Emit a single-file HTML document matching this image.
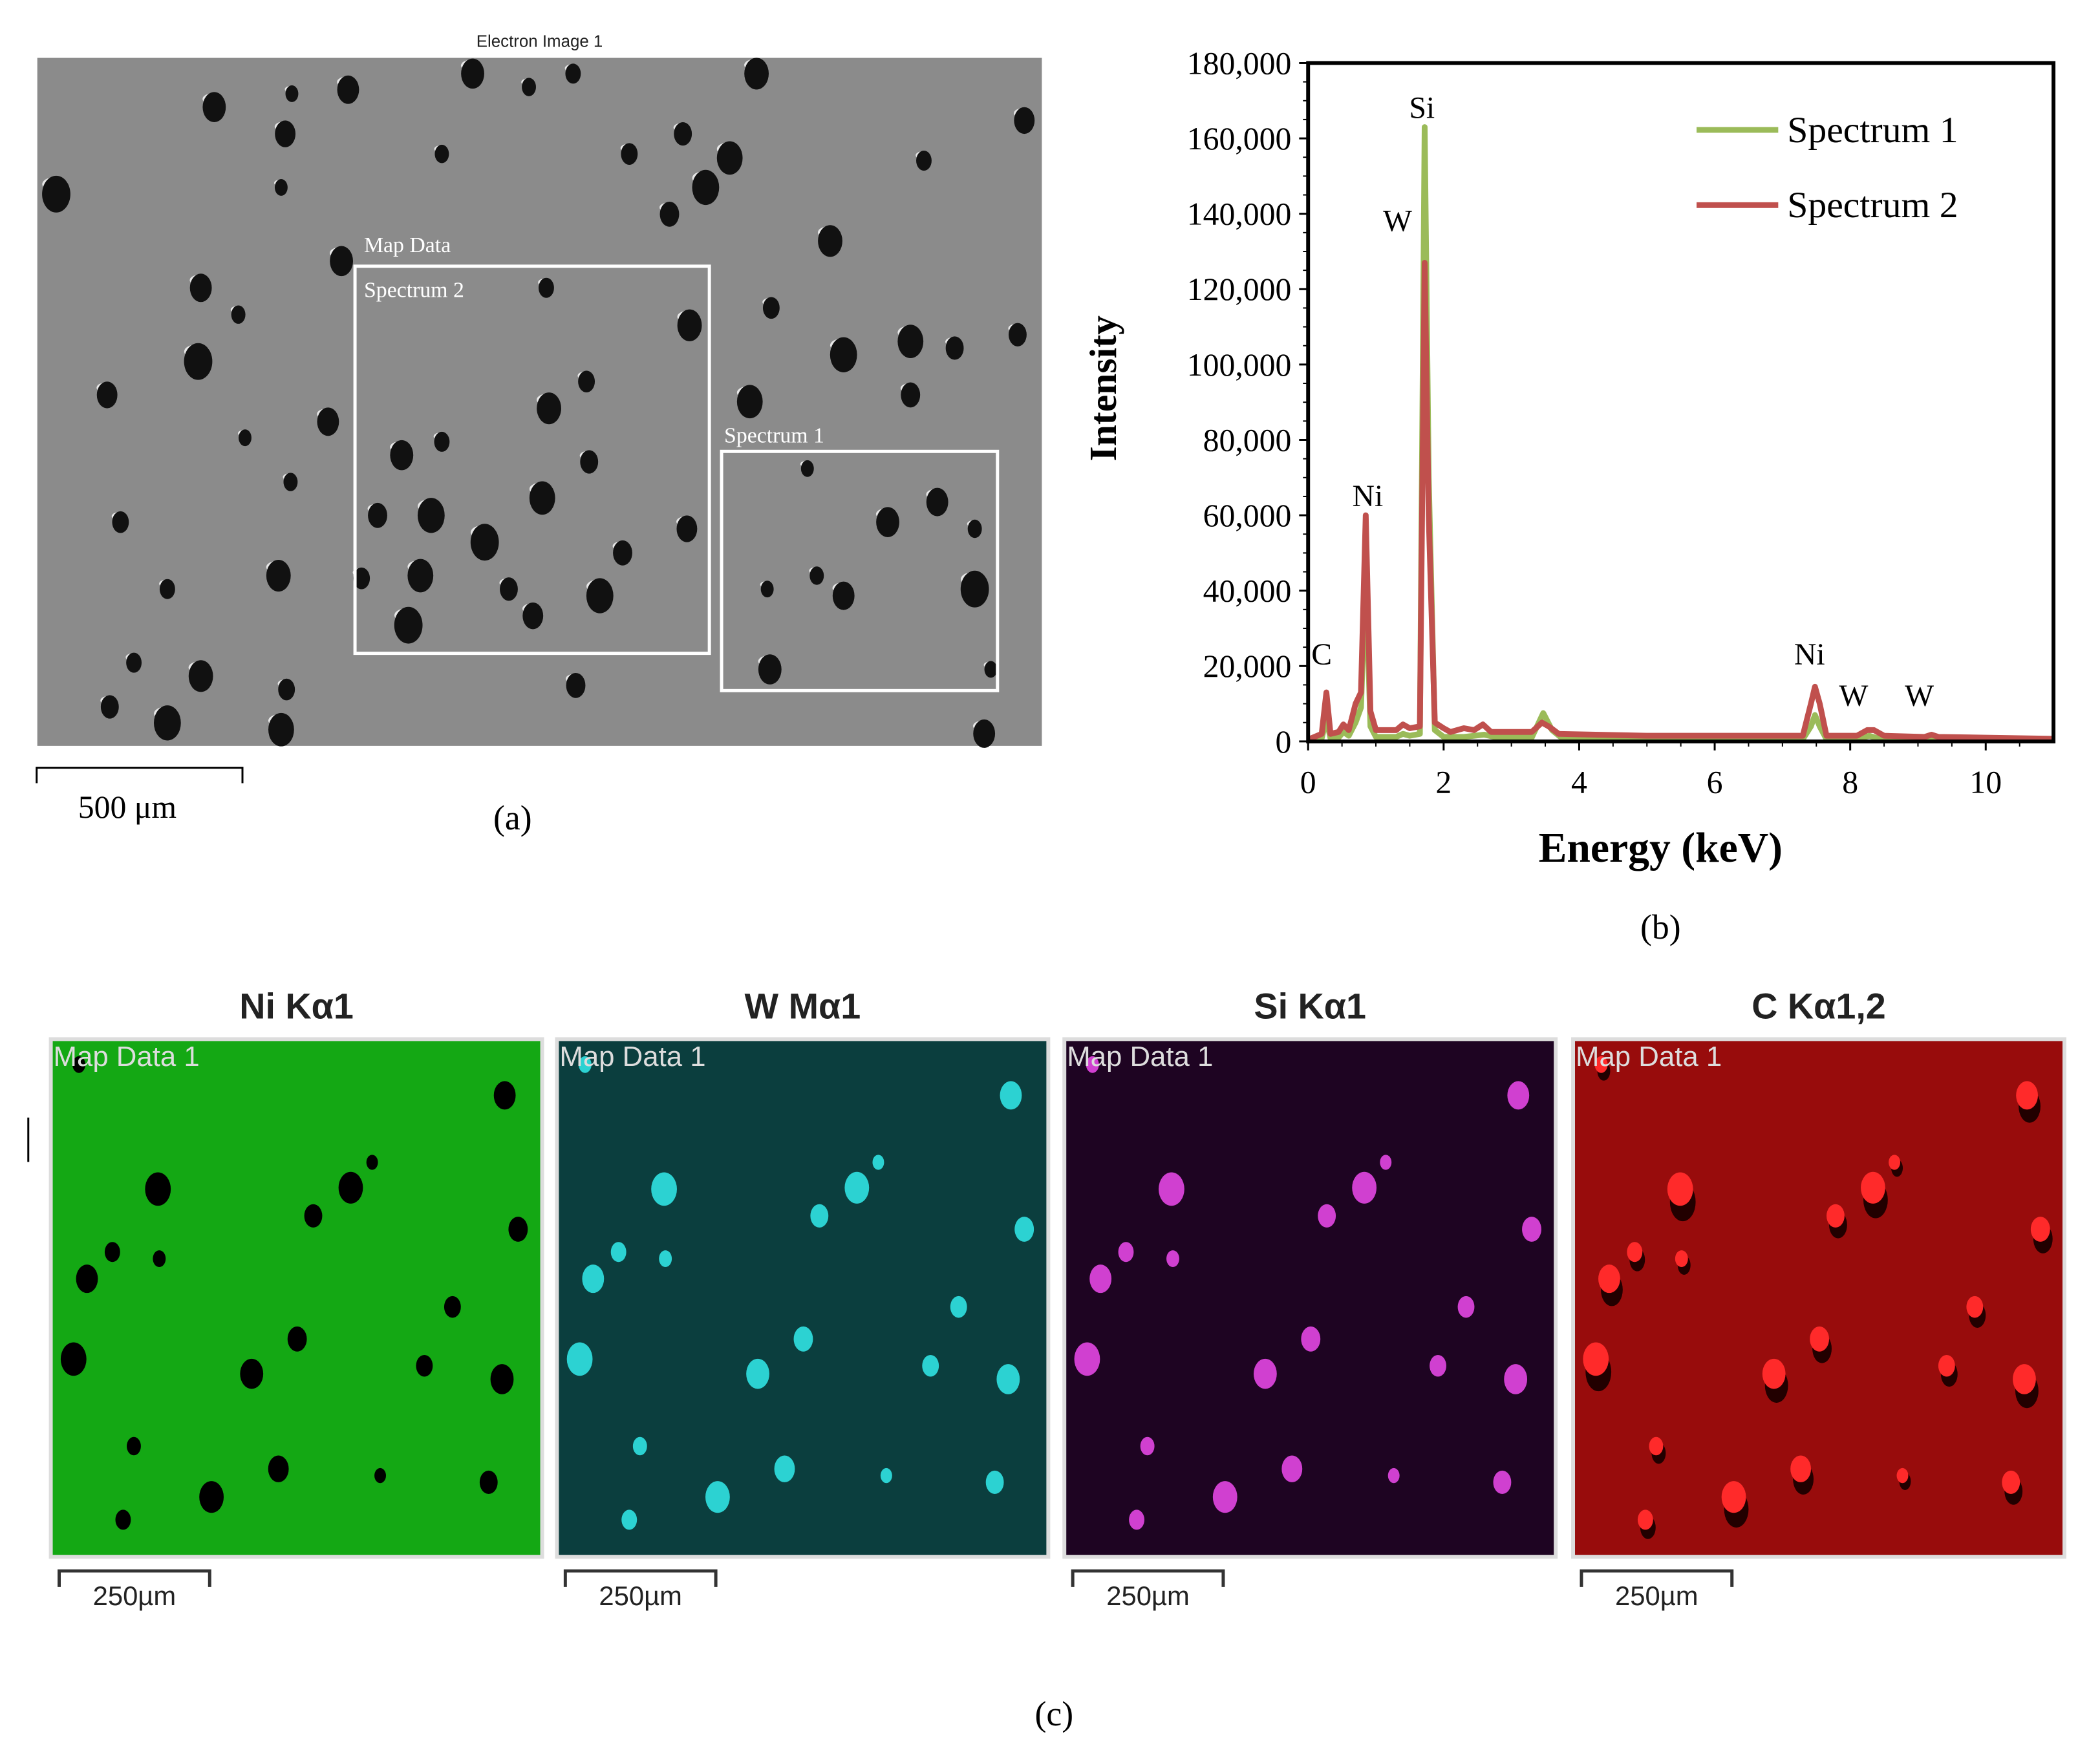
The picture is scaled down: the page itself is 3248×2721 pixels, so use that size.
<!DOCTYPE html>
<html><head><meta charset="utf-8">
<style>
html,body{margin:0;padding:0;background:#fff;}
body{width:3248px;height:2721px;position:relative;overflow:hidden;}
svg{position:absolute;left:0;top:0;}
.ser{font-family:"Liberation Serif",serif;}
.san{font-family:"Liberation Sans","DejaVu Sans",sans-serif;}
</style></head>
<body>
<svg id="fig" width="3248" height="2721" viewBox="0 0 3248 2721" xmlns="http://www.w3.org/2000/svg">
 <g transform="scale(0.9947)">
  <!-- Panel (a) -->
  <g id="panelA">
    <text x="839" y="73" class="san" font-size="26" text-anchor="middle" fill="#222">Electron Image 1</text>
    <rect x="58" y="90" width="1562" height="1070" fill="#8b8b8b"/>
    <g id="semBlobs"></g>
    <rect x="552" y="414" width="551" height="602" fill="none" stroke="#fff" stroke-width="5"/>
    <rect x="1122" y="702" width="429" height="372" fill="none" stroke="#fff" stroke-width="5"/>
    <text x="566" y="392" class="ser" font-size="34" fill="#fff">Map Data</text>
    <text x="566" y="462" class="ser" font-size="34" fill="#fff">Spectrum 2</text>
    <text x="1126" y="688" class="ser" font-size="34" fill="#fff">Spectrum 1</text>
    <path d="M57 1218 V1194 H377 V1218" fill="none" stroke="#000" stroke-width="3"/>
    <text x="198" y="1272" class="ser" font-size="50" text-anchor="middle">500 μm</text>
    <text x="797" y="1290" class="ser" font-size="54" text-anchor="middle">(a)</text>
  </g>

  <!-- Panel (b) chart -->
  <g id="chart"></g>
  <text x="2582" y="1340" class="ser" font-size="66" font-weight="bold" text-anchor="middle">Energy (keV)</text>
  <text transform="translate(1735,604) rotate(-90)" class="ser" font-size="60" font-weight="bold" text-anchor="middle">Intensity</text>
  <text x="2582" y="1460" class="ser" font-size="54" text-anchor="middle">(b)</text>

  <!-- Panel (c) -->
  <g id="maps"></g>
  <line x1="44" y1="1738" x2="44" y2="1807" stroke="#000" stroke-width="3"/>
  <text x="1639" y="2683" class="ser" font-size="54" text-anchor="middle">(c)</text>
 </g>
</svg>
<script>
// ---- Chart data ----
const energy1 = [0,0.2,0.27,0.33,0.45,0.52,0.6,0.7,0.78,0.85,0.92,1.0,1.3,1.4,1.5,1.65,1.72,1.78,1.87,2.0,2.3,2.6,2.8,3.3,3.47,3.6,3.75,5,7.3,7.42,7.48,7.55,7.65,8.1,8.28,8.45,9.2,11];
const spectrum1 = [300,800,6000,800,1000,2500,1500,5000,9000,45000,4000,1200,1200,2000,1500,2000,163000,70000,3000,1200,1200,1800,1000,1000,7500,3000,800,600,600,4000,7000,4000,600,600,1500,600,600,400];
const energy2 = [0,0.2,0.27,0.33,0.45,0.52,0.6,0.7,0.78,0.85,0.92,1.0,1.3,1.4,1.5,1.65,1.72,1.78,1.87,2.0,2.1,2.3,2.45,2.58,2.7,3.3,3.45,3.55,3.7,5,7.3,7.42,7.48,7.55,7.65,8.1,8.25,8.35,8.5,9.1,9.2,9.3,11];
const spectrum2 = [500,2000,13000,2000,2500,4500,3000,10000,13000,60000,8000,3000,3000,4500,3500,4000,127000,60000,5000,3500,2500,3500,3000,4500,2500,2500,5000,4000,2000,1500,1500,10000,14500,10000,1500,1500,3000,3000,1500,1200,1800,1200,700];
const yTicks = [0,20000,40000,60000,80000,100000,120000,140000,160000,180000];
const yTickLabels = ["0","20,000","40,000","60,000","80,000","100,000","120,000","140,000","160,000","180,000"];
const xTicks = [0,2,4,6,8,10];
const xTickLabels = ["0","2","4","6","8","10"];
const seriesNames = ["Spectrum 1","Spectrum 2"];
const seriesColors = ["#9bbb59","#c0504d"];
const peakLabels = ["C","Ni","W","Si","Ni","W","W"];
const peakEnergies = [0.2,0.88,1.32,1.68,7.4,8.05,9.02];
const peakValues = [18000,60000,133000,163000,18000,7000,7000];

const NS="http://www.w3.org/2000/svg";
const PL=2034, PR=3193, PT=98, PB=1153, XMAX=11, YMAX=180000;
const xs = e => PL + e/XMAX*(PR-PL);
const ys = v => PB - v/YMAX*(PB-PT);
function mk(tag, attrs, parent){const el=document.createElementNS(NS,tag);for(const k in attrs)el.setAttribute(k,attrs[k]);parent.appendChild(el);return el;}
const chart=document.getElementById('chart');

yTicks.forEach((v,i)=>{
  const t=mk('line',{x1:PL-14,x2:PL,y1:ys(v),y2:ys(v),stroke:'#000','stroke-width':3},chart);
  
  
  const lb=mk('text',{x:PL-26,y:ys(v)+17,'text-anchor':'end','font-size':50,class:'ser'},chart);
  lb.textContent=yTickLabels[i];
  
  
});
for(let v=5000; v<YMAX; v+=5000){ if(v%20000===0) continue;
  const t=mk('line',{x1:PL-8,x2:PL,y1:ys(v),y2:ys(v),stroke:'#000','stroke-width':2},chart);
  
  
}
xTicks.forEach((v,i)=>{
  const t=mk('line',{x1:xs(v),x2:xs(v),y1:PB,y2:PB+14,stroke:'#000','stroke-width':3},chart);
  
  
  const lb=mk('text',{x:xs(v),y:PB+80,'text-anchor':'middle','font-size':50,class:'ser'},chart);
  lb.textContent=xTickLabels[i];
  
  
});
for(let v=0.5; v<XMAX; v+=0.5){ if(v%2===0) continue;
  const t=mk('line',{x1:xs(v),x2:xs(v),y1:PB,y2:PB+8,stroke:'#000','stroke-width':2},chart);
  
  
}
function drawSeries(E,V,color,name){
  const d=E.map((e,i)=>(i?'L':'M')+xs(e).toFixed(1)+' '+ys(V[i]).toFixed(1)).join(' ');
  const p=mk('path',{d:d,fill:'none',stroke:color,'stroke-width':9,'stroke-linejoin':'round'},chart);
  
  
}
drawSeries(energy1,spectrum1,seriesColors[0],'spectrum-1-line');
drawSeries(energy2,spectrum2,seriesColors[1],'spectrum-2-line');
const fr=mk('rect',{x:PL,y:PT,width:PR-PL,height:PB-PT,fill:'none',stroke:'#000','stroke-width':6},chart);


peakLabels.forEach((s,i)=>{
  const t=mk('text',{x:xs(peakEnergies[i]),y:ys(peakValues[i])-14,'text-anchor':'middle','font-size':48,class:'ser'},chart);
  t.textContent=s;
  
  
});
seriesNames.forEach((n,i)=>{
  const y=202+i*117;
  const l=mk('line',{x1:2638,x2:2765,y1:y,y2:y,stroke:seriesColors[i],'stroke-width':9},chart);
  
  
  const t=mk('text',{x:2779,y:y+19,'font-size':58,class:'ser'},chart);
  t.textContent=n;
  
  
});

// ---- SEM particles (decorative) ----
const semPts=[[218,70],[260,67],[330,115],[353,55],[428,55],[565,55],[470,115],[545,118],[510,100],[527,140],[500,160],[42,145],[213,100],[210,140],[150,215],[178,235],[255,195],[408,215],[515,243],[576,230],[680,255],[713,260],[630,265],[680,295],[148,270],[80,295],[183,327],[245,315],[217,360],[300,340],[330,330],[410,305],[438,285],[405,372],[440,345],[322,385],[282,385],[362,405],[513,395],[603,350],[700,375],[728,395],[663,390],[125,440],[208,430],[270,432],[314,430],[380,440],[448,445],[465,413],[305,467],[398,460],[573,440],[630,445],[610,430],[575,500],[100,495],[150,505],[214,515],[210,545],[82,528],[125,540],[430,512],[728,440],[765,90],[740,500],[735,548],[395,65],[160,80],[690,120],[620,180],[90,390],[560,300],[760,250]];
const sg=document.getElementById('semBlobs');
semPts.forEach((p,i)=>{
  const cx=p[0]*2.082, cy=p[1]*2.082, r=10+((i*7)%13);
  const h=mk('ellipse',{cx:cx-2,cy:cy-r*0.7,rx:r*0.9,ry:r*0.5,fill:'#e8e8e8'},sg);
  
  
  const b=mk('ellipse',{cx:cx,cy:cy,rx:r,ry:r*1.3,fill:'#111'},sg);
  
  
});

// ---- EDS maps ----
const mapTitles=["Ni Kα1","W Mα1","Si Kα1","C Kα1,2"];
const mapLefts=[79,866,1655,2446];
const mapBg=["#14a814","#0b3e3e","#1e0422","#980c0c"];
const mapBlob=["#000","#2cd2d2","#d040d0","#ff2a2a"];
const mapPts=[[240,92],[196,132],[224,111],[46,159],[27,179],[81,164],[184,224],[17,239],[279,244],[337,254],[62,304],[170,321],[246,326],[327,331],[120,342],[54,359],[339,42],[21,19],[349,142],[80,112],[300,200],[150,250]];
const mg=document.getElementById('maps');
mapTitles.forEach((tt,k)=>{
  const L=mapLefts[k], T=1616, W=764, H=805;
  const ti=mk('text',{x:L+W/2,y:1584,'text-anchor':'middle','font-size':56,'font-weight':'bold',class:'san',fill:'#222'},mg);
  ti.textContent=tt;
  
  
  const r=mk('rect',{x:L,y:T,width:W,height:H,fill:mapBg[k],stroke:'#ddd','stroke-width':6},mg);
  
  
  mapPts.forEach((p,i)=>{
    const cx=L+p[0]*2.082, cy=T+p[1]*2.082, rr=9+((i*5)%12);
    if(k===3){
      const s=mk('ellipse',{cx:cx+4,cy:cy+rr,rx:rr,ry:rr*1.5,fill:'#200'},mg);
      
      
    }
    const b=mk('ellipse',{cx:cx,cy:cy,rx:rr,ry:rr*1.3,fill:mapBlob[k]},mg);
    
    
  });
  const md=mk('text',{x:L+4,y:T+42,'font-size':44,class:'san',fill:'#ddd'},mg);
  md.textContent='Map Data 1';
  
  
  const sb=mk('path',{d:`M${L+13} 2468 V2443 H${L+247} V2468`,fill:'none',stroke:'#333','stroke-width':5},mg);
  
  
  const sl=mk('text',{x:L+130,y:2496,'text-anchor':'middle','font-size':42,class:'san',fill:'#222'},mg);
  sl.textContent='250µm';
  
  
});
</script>
</body></html>
